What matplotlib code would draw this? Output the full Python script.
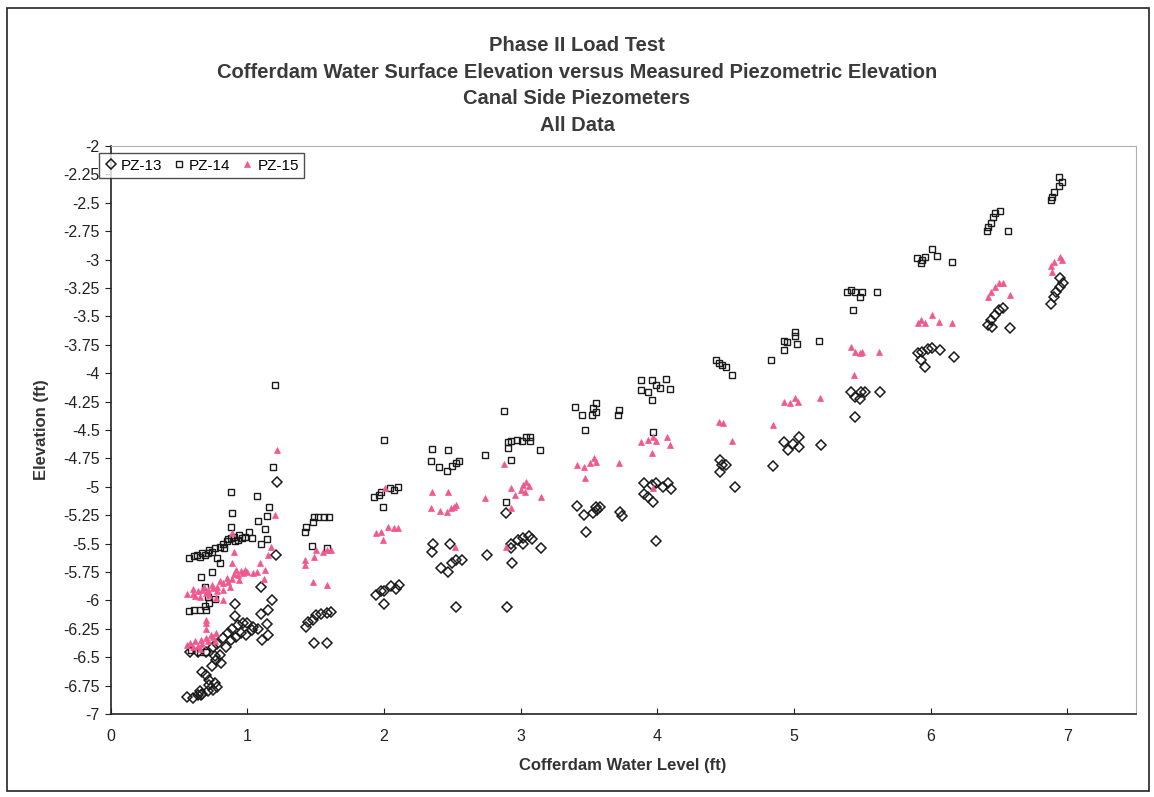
import matplotlib
matplotlib.use("Agg")
import matplotlib.pyplot as plt
from matplotlib.patches import Rectangle
from matplotlib.ticker import FuncFormatter

plt.rcParams['font.family'] = ['Liberation Sans', 'DejaVu Sans']
plt.rcParams['axes.unicode_minus'] = False

title_lines = ["Phase II Load Test",
               "Cofferdam Water Surface Elevation versus Measured Piezometric Elevation",
               "Canal Side Piezometers",
               "All Data"]
series_names = ["PZ-13", "PZ-14", "PZ-15"]

# PZ-13 readings (cofferdam level, piezometric elevation)
pz13_x = [0.58, 0.64, 0.70, 0.75, 0.78, 0.82, 0.86, 0.89, 0.93, 0.97, 1.00, 1.04, 1.08,
          0.84, 0.88, 0.92, 0.95, 0.99, 1.03, 0.80, 0.77, 0.81, 0.74, 0.76,
          0.56, 0.60, 0.64, 0.67, 0.71, 0.75, 0.78, 0.76, 0.72, 0.70, 0.67, 0.66, 0.72, 0.65,
          1.22, 1.21, 1.10, 1.18, 1.15, 1.10, 1.14, 1.15, 1.11, 0.91, 0.91,
          1.61, 1.58, 1.54, 1.50, 1.48, 1.44, 1.43, 1.49, 1.58,
          1.94, 1.98, 2.00, 2.05, 2.11, 2.09, 2.00,
          2.36, 2.35, 2.48, 2.42, 2.47, 2.50, 2.53, 2.57, 2.53, 2.75,
          2.89, 2.93, 2.93, 2.98, 3.02, 3.06, 3.08, 3.02, 3.15, 2.94, 2.90,
          3.41, 3.46, 3.48, 3.53, 3.55, 3.58, 3.56, 3.73, 3.74,
          3.90, 3.96, 3.99, 4.04, 4.08, 4.10, 3.90, 3.93, 3.97, 3.99,
          4.46, 4.47, 4.50, 4.46, 4.57,
          4.93, 4.96, 4.99, 5.04, 5.04, 5.20, 4.85,
          5.42, 5.45, 5.49, 5.52, 5.48, 5.63, 5.45,
          5.91, 5.94, 5.98, 6.01, 6.07, 5.93, 5.96, 6.17,
          6.42, 6.44, 6.47, 6.50, 6.53, 6.45, 6.58,
          6.88, 6.90, 6.92, 6.95, 6.97, 6.95]
pz13_y = [-6.45, -6.45, -6.45, -6.41, -6.38, -6.33, -6.29, -6.25, -6.22, -6.20, -6.20, -6.23, -6.25,
          -6.41, -6.35, -6.32, -6.29, -6.30, -6.26, -6.48, -6.52, -6.55, -6.58, -6.49,
          -6.85, -6.86, -6.83, -6.82, -6.80, -6.79, -6.76, -6.73, -6.70, -6.66, -6.63, -6.83, -6.74, -6.80,
          -4.96, -5.60, -5.88, -6.00, -6.08, -6.12, -6.21, -6.30, -6.35, -6.03, -6.14,
          -6.10, -6.11, -6.12, -6.13, -6.17, -6.19, -6.23, -6.37, -6.37,
          -5.95, -5.92, -5.92, -5.87, -5.86, -5.90, -6.03,
          -5.50, -5.57, -5.50, -5.71, -5.75, -5.67, -5.64, -5.64, -6.06, -5.60,
          -5.23, -5.54, -5.50, -5.47, -5.45, -5.43, -5.46, -5.50, -5.54, -5.67, -6.06,
          -5.17, -5.25, -5.40, -5.23, -5.18, -5.18, -5.20, -5.22, -5.26,
          -4.97, -4.98, -4.97, -5.00, -4.97, -5.02, -5.06, -5.09, -5.13, -5.48,
          -4.76, -4.81, -4.81, -4.87, -5.00,
          -4.61, -4.68, -4.62, -4.56, -4.65, -4.63, -4.82,
          -4.17, -4.21, -4.17, -4.17, -4.23, -4.17, -4.39,
          -3.82, -3.81, -3.79, -3.78, -3.80, -3.88, -3.95, -3.86,
          -3.58, -3.53, -3.49, -3.44, -3.43, -3.59, -3.60,
          -3.39, -3.33, -3.29, -3.24, -3.21, -3.16]

# PZ-14 readings
pz14_x = [1.20, 1.19, 0.88, 1.07, 0.89, 1.16, 1.14, 1.13, 1.14, 1.10, 1.08, 1.01, 1.03,
          0.57, 0.61, 0.65, 0.69, 0.72, 0.76, 0.80, 0.82, 0.85, 0.88, 0.90, 0.94, 0.98,
          0.78, 0.80, 0.88, 0.74, 0.83, 0.93, 0.63, 0.67, 0.71, 0.86, 0.91, 0.96,
          0.66, 0.74, 0.69, 0.71, 0.72, 0.76, 0.69, 0.65, 0.57, 0.61, 0.70,
          0.59, 0.65, 0.70,
          1.49, 1.52, 1.56, 1.60, 1.48, 1.43, 1.42, 1.47, 1.58,
          2.00, 1.93, 1.96, 1.98, 2.04, 2.07, 2.10, 1.99,
          2.35, 2.47, 2.34, 2.40, 2.46, 2.50, 2.53, 2.55, 2.74,
          2.88, 2.91, 2.93, 2.97, 3.01, 3.04, 3.07, 3.07, 2.91, 3.14, 2.93, 2.89,
          3.40, 3.45, 3.52, 3.53, 3.55, 3.47, 3.72, 3.71, 3.55,
          3.88, 3.96, 4.06, 3.99, 4.02, 3.88, 3.93, 4.09, 3.96, 3.97,
          4.43, 4.45, 4.47, 4.50, 4.55,
          5.01, 5.01, 5.02, 4.93, 4.95, 4.93, 5.18, 4.83,
          5.42, 5.45, 5.48, 5.50, 5.61, 5.43, 5.39,
          6.01, 6.05, 6.16, 5.90, 5.94, 5.93, 5.96,
          6.51, 6.47, 6.46, 6.44, 6.42, 6.41, 6.57,
          6.94, 6.96, 6.94, 6.90, 6.89, 6.88]
pz14_y = [-4.10, -4.83, -5.05, -5.08, -5.23, -5.18, -5.26, -5.37, -5.46, -5.50, -5.30, -5.40, -5.45,
          -5.63, -5.61, -5.62, -5.60, -5.56, -5.54, -5.53, -5.50, -5.48, -5.45, -5.44, -5.42, -5.44,
          -5.63, -5.67, -5.35, -5.57, -5.54, -5.47, -5.60, -5.58, -5.58, -5.46, -5.48, -5.45,
          -5.79, -5.75, -5.88, -5.97, -6.02, -5.99, -6.05, -6.08, -6.09, -6.08, -6.08,
          -6.44, -6.45, -6.45,
          -5.27, -5.27, -5.27, -5.27, -5.31, -5.35, -5.40, -5.52, -5.54,
          -4.59, -5.09, -5.07, -5.05, -5.01, -5.03, -5.00, -5.18,
          -4.67, -4.68, -4.77, -4.83, -4.86, -4.82, -4.79, -4.77, -4.72,
          -4.33, -4.61, -4.60, -4.59, -4.60, -4.56, -4.56, -4.60, -4.66, -4.68, -4.76, -5.13,
          -4.30, -4.37, -4.37, -4.31, -4.34, -4.50, -4.32, -4.37, -4.26,
          -4.06, -4.06, -4.05, -4.10, -4.13, -4.15, -4.17, -4.14, -4.24, -4.52,
          -3.88, -3.91, -3.93, -3.95, -4.02,
          -3.64, -3.67, -3.74, -3.72, -3.73, -3.80, -3.72, -3.88,
          -3.27, -3.29, -3.33, -3.29, -3.29, -3.44, -3.29,
          -2.91, -2.97, -3.02, -2.99, -3.00, -3.03, -2.98,
          -2.57, -2.59, -2.63, -2.68, -2.71, -2.75, -2.75,
          -2.27, -2.32, -2.35, -2.41, -2.45, -2.48]

# PZ-15 readings
pz15_x = [1.22, 1.20, 0.90, 0.89, 1.17, 1.15, 1.09, 1.07, 1.12, 1.13, 0.89,
          0.56, 0.60, 0.64, 0.67, 0.71, 0.75, 0.78, 0.82, 0.86, 0.89, 0.93, 0.97, 1.00, 1.04,
          0.65, 0.72, 0.77, 0.82, 0.92, 0.98, 0.82, 0.87, 0.94,
          0.60, 0.68, 0.74, 0.80, 0.85, 0.90, 0.95, 0.62, 0.70, 0.78,
          0.56, 0.60, 0.64, 0.67, 0.71, 0.75, 0.77, 0.70, 0.70, 0.76, 0.65,
          0.58, 0.62, 0.66, 0.70, 0.73, 0.70,
          1.50, 1.55, 1.58, 1.61, 1.49, 1.42, 1.42, 1.48, 1.58,
          1.94, 1.98, 1.99, 2.03, 2.07, 2.10, 2.01,
          2.35, 2.47, 2.34, 2.41, 2.46, 2.49, 2.51, 2.53, 2.52, 2.74,
          2.88, 2.93, 2.96, 3.00, 3.02, 3.04, 3.06, 3.03, 2.93, 3.15, 2.89,
          3.41, 3.46, 3.47, 3.51, 3.54, 3.55, 3.72,
          3.88, 3.93, 3.97, 3.99, 4.07, 4.09, 3.96, 3.97,
          4.45, 4.48, 4.55,
          4.85, 4.93, 4.97, 5.01, 5.03, 5.19,
          5.42, 5.45, 5.48, 5.50, 5.62, 5.44,
          5.91, 5.93, 5.96, 6.01, 6.06, 6.16,
          6.42, 6.44, 6.47, 6.50, 6.53, 6.58,
          6.88, 6.90, 6.95, 6.96, 6.89]
pz15_y = [-4.68, -5.25, -5.57, -5.41, -5.53, -5.60, -5.67, -5.75, -5.81, -5.73, -5.67,
          -5.94, -5.94, -5.92, -5.91, -5.91, -5.89, -5.88, -5.85, -5.84, -5.81, -5.78, -5.76, -5.75, -5.76,
          -5.97, -5.95, -5.98, -6.00, -5.73, -5.73, -5.91, -5.88, -5.82,
          -5.90, -5.88, -5.86, -5.83, -5.80, -5.77, -5.74, -5.96, -5.93, -5.92,
          -6.39, -6.41, -6.40, -6.38, -6.36, -6.32, -6.29, -6.20, -6.17, -6.36, -6.43,
          -6.37, -6.36, -6.35, -6.33, -6.30, -6.25,
          -5.56, -5.57, -5.56, -5.56, -5.62, -5.64, -5.69, -5.84, -5.86,
          -5.41, -5.40, -5.47, -5.35, -5.36, -5.36, -5.01,
          -5.05, -5.05, -5.19, -5.21, -5.22, -5.19, -5.18, -5.16, -5.53, -5.10,
          -4.80, -5.01, -5.07, -5.03, -4.98, -4.96, -4.99, -5.05, -5.19, -5.09, -5.53,
          -4.81, -4.83, -4.92, -4.79, -4.75, -4.78, -4.79,
          -4.61, -4.59, -4.56, -4.60, -4.56, -4.63, -4.70, -5.01,
          -4.43, -4.44, -4.60,
          -4.46, -4.25, -4.26, -4.22, -4.25, -4.22,
          -3.77, -3.81, -3.82, -3.81, -3.81, -4.02,
          -3.56, -3.53, -3.56, -3.49, -3.55, -3.56,
          -3.33, -3.29, -3.24, -3.21, -3.21, -3.31,
          -3.06, -3.02, -2.98, -3.00, -3.11]

x_ticks = [0, 1, 2, 3, 4, 5, 6, 7]
y_ticks = [-2 - 0.25 * i for i in range(21)]

fig = plt.figure(figsize=(11.54, 7.97), dpi=100)
ax = fig.add_axes([0.096, 0.104, 0.888, 0.713])

ax.plot(pz13_x, pz13_y, linestyle='none', marker='D', markersize=5.5,
        markerfacecolor='none', markeredgecolor='#1a1a1a', markeredgewidth=1.1,
        label=series_names[0])
ax.plot(pz14_x, pz14_y, linestyle='none', marker='s', markersize=4,
        markerfacecolor='none', markeredgecolor='#1a1a1a', markeredgewidth=1.0,
        label=series_names[1])
ax.plot(pz15_x, pz15_y, linestyle='none', marker='^', markersize=5,
        markerfacecolor='#f2588e', markeredgecolor='#f2588e', markeredgewidth=0.5,
        label=series_names[2])

ax.set_xlim(0, 7.5)
ax.set_ylim(-7, -2)
ax.set_xticks(x_ticks)
ax.set_yticks(y_ticks)
ax.yaxis.set_major_formatter(FuncFormatter(lambda v, p: '%g' % v))
ax.tick_params(axis='x', direction='in', length=4, pad=11, labelsize=11.5, colors='#222222')
ax.tick_params(axis='y', direction='out', length=4, pad=4, labelsize=11.5, colors='#222222')

for side in ['left', 'bottom']:
    ax.spines[side].set_color('#222222')
    ax.spines[side].set_linewidth(1.2)
for side in ['top', 'right']:
    ax.spines[side].set_color('#b0b0b0')
    ax.spines[side].set_linewidth(0.8)

ax.set_xlabel("Cofferdam Water Level (ft)", fontsize=12, fontweight='bold',
              color='#333333', labelpad=10)
ax.set_ylabel("Elevation (ft)", fontsize=12, fontweight='bold',
              color='#333333', labelpad=10)

leg = ax.legend(loc='upper left', bbox_to_anchor=(-0.014, 0.992), ncol=3,
                fontsize=11, frameon=True, fancybox=False, borderpad=0.35,
                handlelength=0.8, handletextpad=0.25, columnspacing=0.7,
                borderaxespad=0.2)
leg.get_frame().set_edgecolor('#222222')
leg.get_frame().set_linewidth(1.0)

for i, line in enumerate(title_lines):
    fig.text(0.5, 0.943 - i * 0.0335, line, ha='center', va='center',
             fontsize=14.5, fontweight='bold', color='#3a3a3a')

fig.patches.append(Rectangle((0.006, 0.008), 0.99, 0.982, transform=fig.transFigure,
                             fill=False, edgecolor='#222222', linewidth=1.2))

fig.savefig('out.png', dpi=100)
